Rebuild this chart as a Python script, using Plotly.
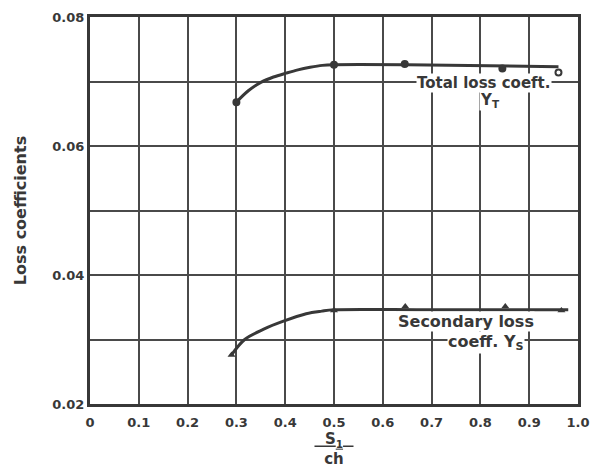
import plotly.graph_objects as go

# Measured loss coefficients against pitch ratio S1/ch
total_x = [0.30, 0.50, 0.645, 0.845, 0.96]
total_y = [0.0668, 0.0726, 0.0727, 0.0720, 0.0714]
total_symbols = ["circle", "circle", "circle", "circle", "circle-open"]

secondary_x = [0.29, 0.50, 0.646, 0.851, 0.966]
secondary_y = [0.0276, 0.0345, 0.0351, 0.0351, 0.0345]

# Faired curves drawn through the data
total_fit_x = [0.30, 0.325, 0.351, 0.376, 0.402, 0.426, 0.451, 0.476, 0.50, 0.65, 0.96]
total_fit_y = [0.0668, 0.0686, 0.0699, 0.0707, 0.0713, 0.0718, 0.0722, 0.0725, 0.0726, 0.0726, 0.0723]
secondary_fit_x = [0.29, 0.317, 0.356, 0.395, 0.443, 0.475, 0.50, 0.70, 0.98]
secondary_fit_y = [0.0276, 0.0300, 0.0316, 0.0328, 0.0340, 0.0344, 0.0346, 0.0346, 0.0346]

x_ticks = [0, 0.1, 0.2, 0.3, 0.4, 0.5, 0.6, 0.7, 0.8, 0.9, 1.0]
x_ticktext = ["0", "0.1", "0.2", "0.3", "0.4", "0.5", "0.6", "0.7", "0.8", "0.9", "1.0"]
y_ticks = [0.02, 0.04, 0.06, 0.08]
y_ticktext = ["0.02", "0.04", "0.06", "0.08"]

INK = "#383838"
GRID = "#4a4a4a"
FONT = "DejaVu Sans"


def bold(labels):
    return ["<b>%s</b>" % t for t in labels]


fig = go.Figure()

for fx, fy in ((total_fit_x, total_fit_y), (secondary_fit_x, secondary_fit_y)):
    fig.add_trace(go.Scatter(
        x=fx, y=fy, mode="lines",
        line=dict(color=INK, width=3, shape="spline", smoothing=1.0),
        hoverinfo="skip", showlegend=False))

fig.add_trace(go.Scatter(
    x=total_x, y=total_y, mode="markers", name="Y_T",
    marker=dict(symbol=total_symbols, size=6, color=INK,
                line=dict(color=INK, width=2)),
    showlegend=False))
fig.add_trace(go.Scatter(
    x=secondary_x, y=secondary_y, mode="markers", name="Y_S",
    marker=dict(symbol="triangle-up", size=7, color=INK),
    showlegend=False))

annotations = [
    dict(x=0.807, y=0.0697, text="<b>Total loss coeft.</b>", size=15),
    dict(x=0.82, y=0.0671, text="<b>Y<sub>T</sub></b>", size=15),
    dict(x=0.770, y=0.0328, text="<b>Secondary loss</b>", size=16),
    dict(x=0.811, y=0.0295, text="<b>coeff. Y<sub>S</sub></b>", size=16),
]
for a in annotations:
    fig.add_annotation(xref="x", yref="y", x=a["x"], y=a["y"], text=a["text"],
                       showarrow=False,
                       font=dict(family=FONT, size=a["size"], color=INK),
                       bgcolor="white", borderpad=0)

axis_common = dict(
    showline=True, linecolor=INK, linewidth=3, mirror=True,
    showgrid=True, gridcolor=GRID, gridwidth=2,
    zeroline=False, ticks="", automargin=False,
    tickfont=dict(family=FONT, size=13, color=INK),
)

fig.update_xaxes(
    range=[0, 1.0], tickvals=x_ticks, ticktext=bold(x_ticktext),
    ticklabelstandoff=4,
    title=dict(text="<b><u>\u00a0\u00a0S<sub>1</sub>\u00a0\u00a0</u><br>ch</b>",
               font=dict(family=FONT, size=15, color=INK), standoff=6),
    **axis_common)
fig.update_yaxes(
    range=[0.02, 0.08], tickvals=y_ticks, ticktext=bold(y_ticktext),
    minor=dict(dtick=0.01, showgrid=True, gridcolor=GRID, gridwidth=2,
               ticks=""),
    title=dict(text="<b>Loss coefficients</b>",
               font=dict(family=FONT, size=16, color=INK), standoff=22),
    **axis_common)

fig.update_layout(
    width=598, height=468,
    margin=dict(l=90, r=20, t=17, b=64),
    paper_bgcolor="white", plot_bgcolor="white",
)

fig.write_html("out.html")
